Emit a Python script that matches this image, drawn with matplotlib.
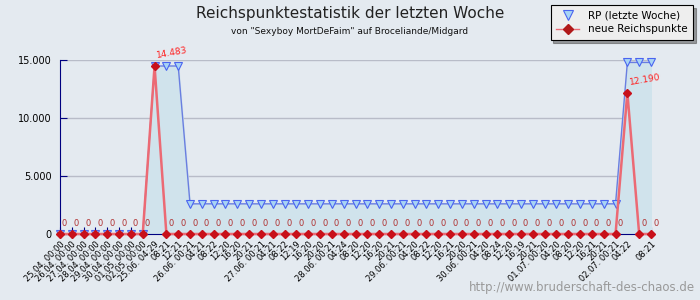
import numpy as np
import matplotlib
matplotlib.use("Agg")
import matplotlib.pyplot as plt
from matplotlib.lines import Line2D
from matplotlib.ticker import FuncFormatter

# x labels (time stamps), one per data point
labels = ["25.04. 00:00", "26.04. 00:00", "27.04. 00:00", "28.04. 00:00",
          "29.04. 00:00", "30.04. 00:00", "01.05. 00:00", "02.05. 00:00",
          "25.06. 04:29", "08:21", "12:21",
          "26.06. 00:21", "04:21", "08:22", "12:20", "16:20", "20:21",
          "27.06. 00:21", "04:21", "08:22", "12:19", "16:20", "20:20",
          "28.06. 00:21", "04:24", "08:20", "12:20", "16:20", "20:21",
          "29.06. 00:21", "04:20", "08:22", "12:20", "16:21", "20:20",
          "30.06. 00:21", "04:20", "08:24", "12:20", "16:19", "20:21",
          "01.07. 00:20", "04:20", "08:20", "12:20", "16:21", "20:21",
          "02.07. 00:21", "04:22", "", "08:21"]

rp_week = [0] * 8 + [14483] * 3 + [2600] * 37 + [14790] * 3
new_rp = [0] * 8 + [14483] + [0] * 39 + [12190] + [0] * 2

bg = '#e4eaf0'
navy = '#000080'

fig = plt.figure(figsize=(7, 3), dpi=100, facecolor=bg)
ax = fig.add_axes([60/700, 66/300, 591/700, 174/300])
ax.set_facecolor(bg)

x = np.arange(len(labels))

ax.fill_between(x, rp_week, color='#d0e3ec', zorder=1)
ax.plot(x, rp_week, color='#6a7ee0', lw=1, marker='v', markersize=6,
        markerfacecolor='#a8d4f4', markeredgecolor='#4a64f0', markeredgewidth=0.8,
        zorder=3, clip_on=False)
ax.plot(x, new_rp, color='#ec6a74', lw=1.8, marker='D', markersize=4,
        markerfacecolor='#c8101a', markeredgecolor='#c8101a',
        zorder=4, clip_on=False)

# value labels above the red points
for xi, v in zip(x, new_rp):
    if v == 0:
        ax.annotate('0', (xi, v), xytext=(2, 6), textcoords='offset pixels',
                    fontsize=6, color='#b03030', ha='left', va='bottom')
    else:
        txt = f'{v:,}'.replace(',', '.')
        ax.annotate(txt, (xi, v), xytext=(1, 6), textcoords='offset pixels',
                    fontsize=6.5, color='#ff2020', ha='left', va='bottom',
                    rotation=10)

ax.set_xlim(0, len(labels) - 1)
ax.set_ylim(0, 15000)
ax.set_yticks([0, 5000, 10000, 15000])
ax.yaxis.set_major_formatter(FuncFormatter(lambda v, p: f'{int(v):,}'.replace(',', '.')))
ax.grid(axis='y', color='#b8bcc8', lw=1)
ax.set_axisbelow(True)

ax.set_xticks(x)
ax.set_xticklabels(labels, rotation=45, ha='right', rotation_mode='anchor', fontsize=6)
ax.tick_params(axis='x', direction='in', length=5, color=navy, pad=4)
ax.tick_params(axis='y', direction='in', length=5, color=navy, labelsize=7, pad=6)

for s in ['top', 'right']:
    ax.spines[s].set_visible(False)
for s in ['left', 'bottom']:
    ax.spines[s].set_color(navy)

fig.text(0.5, 0.955, 'Reichspunktestatistik der letzten Woche', ha='center',
         va='center', fontsize=11, color='#222222')
fig.text(0.5, 0.895, 'von "Sexyboy MortDeFaim" auf Broceliande/Midgard', ha='center',
         va='center', fontsize=6.5, color='#111111')
fig.text(0.993, 0.04, 'http://www.bruderschaft-des-chaos.de', ha='right',
         va='center', fontsize=8.5, color='#999999')

handles = [
    Line2D([], [], ls='none', marker='v', markersize=7, markerfacecolor='#a8d4f4',
           markeredgecolor='#4a64f0', markeredgewidth=0.8),
    Line2D([], [], color='#ec6a74', lw=1, marker='D', markersize=5,
           markerfacecolor='#b01818', markeredgecolor='#b01818'),
]
leg = fig.legend(handles, ['RP (letzte Woche)', 'neue Reichspunkte'],
                 loc='upper right', bbox_to_anchor=(693/700, 1 - 5/300), fontsize=7.5,
                 frameon=True, fancybox=False, shadow=True, borderpad=0.55,
                 labelspacing=0.35, handlelength=2.2, handletextpad=0.8, borderaxespad=0)
leg.get_frame().set_edgecolor('black')
leg.get_frame().set_facecolor('#eeeeee')
leg.get_frame().set_linewidth(0.8)

fig.savefig('out.png', dpi=100, facecolor=bg)
